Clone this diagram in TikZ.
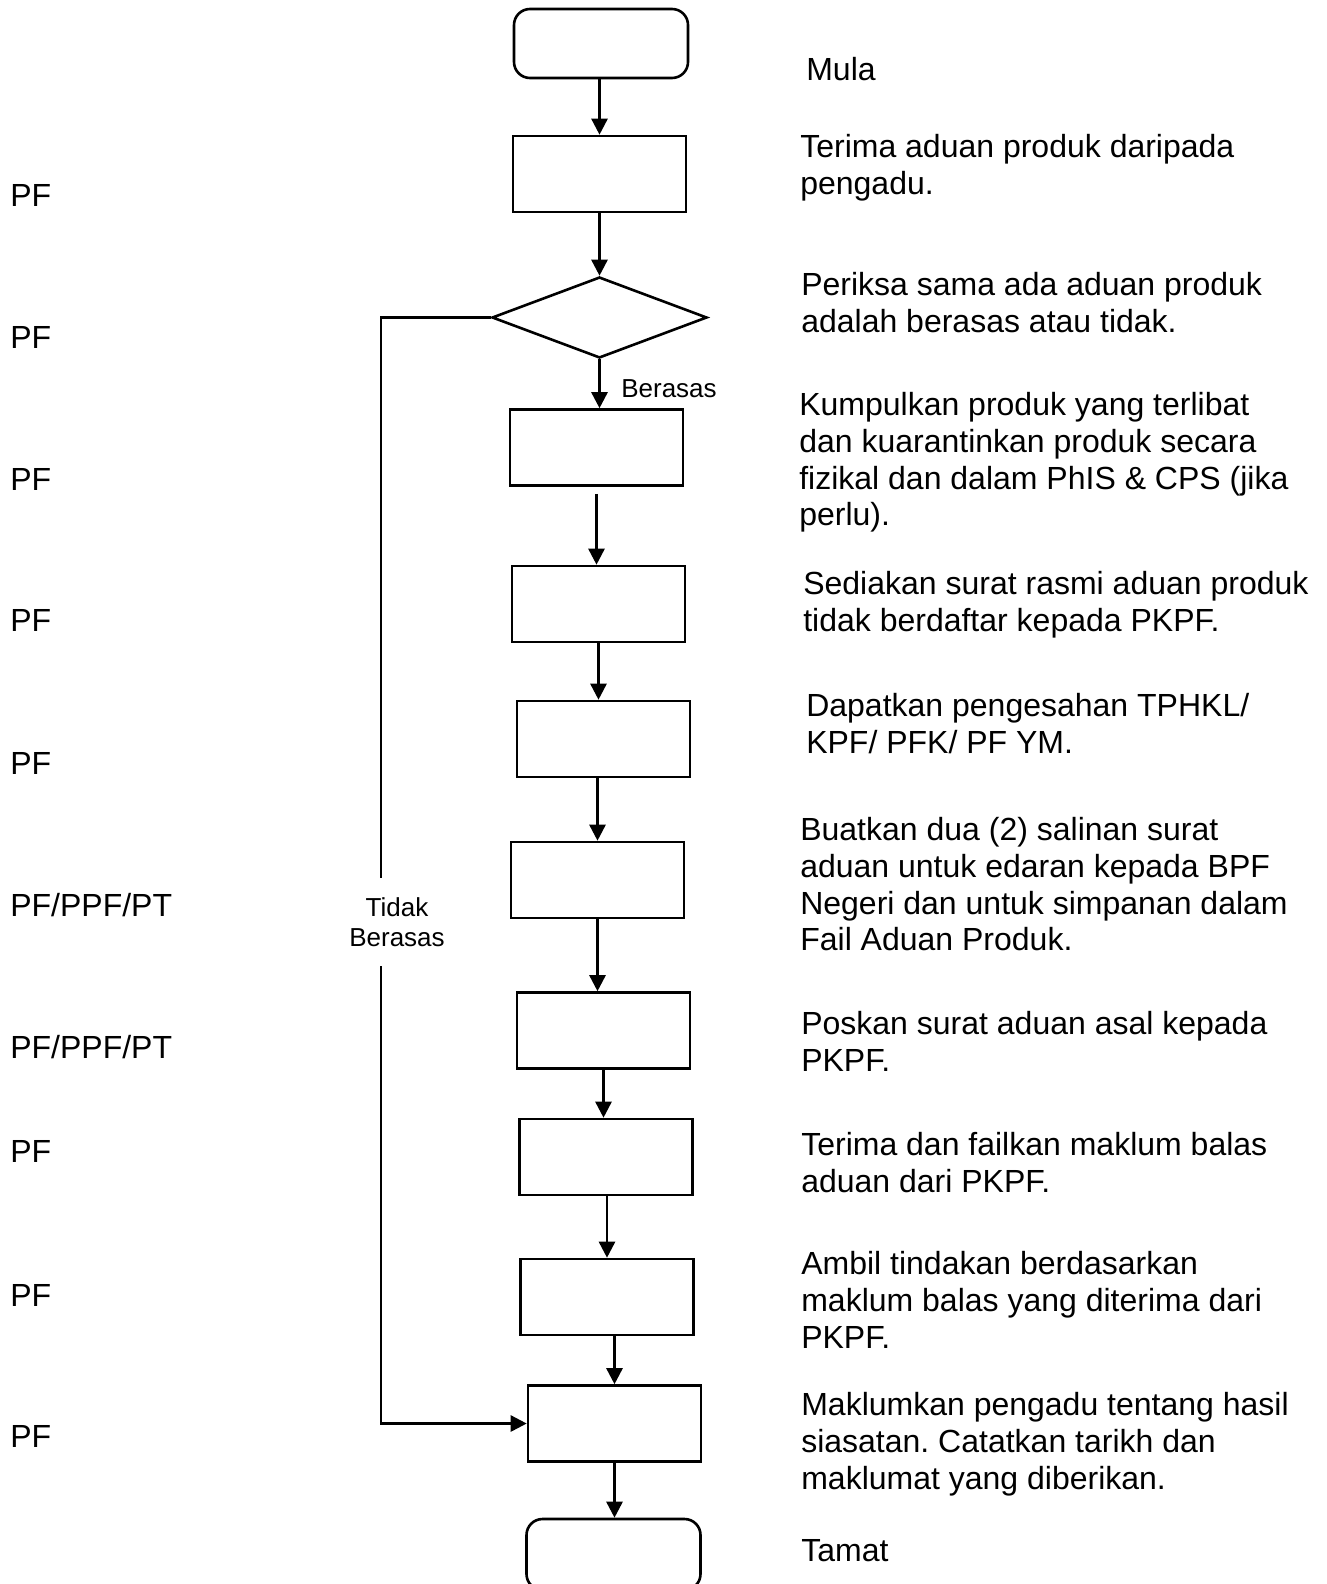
\documentclass[tikz,border=0pt]{standalone}
\usepackage{fontspec}
\setmainfont{Liberation Sans}
\usetikzlibrary{arrows.meta,shapes.geometric}
\frenchspacing
\begin{document}
\begin{tikzpicture}[x=0.5pt,y=-0.5pt,
  line width=1.3pt,
  every node/.style={inner sep=0pt},
  proc/.style={draw, rectangle, minimum width=86.5pt, minimum height=38pt},
  term/.style={draw, rectangle, rounded corners=8pt, minimum width=87pt, minimum height=34.5pt},
  decide/.style={draw, diamond, minimum width=107.5pt, minimum height=40.5pt},
  flow/.style={-{Triangle[length=8pt,width=8pt]}},
  desc/.style={anchor=north west, align=left, font=\fontsize{16pt}{18.4pt}\selectfont},
  role/.style={anchor=base west, font=\fontsize{16pt}{18.4pt}\selectfont},
  branch/.style={font=\fontsize{13pt}{15pt}\selectfont, align=center}]
\useasboundingbox (0,0) rectangle (1327,1584);
\clip (0,0) rectangle (1327,1584);

% flow chart shapes
\node[term]   (s)  at (601,43.5) {};
\node[proc]   (b1) at (599.5,174) {};
\node[decide] (d)  at (599.5,317.5) {};
\node[proc]   (b2) at (596.5,447.5) {};
\node[proc]   (b3) at (598.5,604) {};
\node[proc]   (b4) at (603.5,739) {};
\node[proc]   (b5) at (597.5,880) {};
\node[proc]   (b6) at (603.5,1030.5) {};
\node[proc]   (b7) at (606,1157) {};
\node[proc]   (b8) at (607,1297) {};
\node[proc]   (b9) at (614.5,1423.5) {};
\node[term, minimum height=35.5pt] (e) at (613.5,1554.5) {};

% main flow
\draw[flow] (s.south -| b1.north) -- (b1.north);
\draw[flow] (b1.south -| d.north) -- (d.north);
\draw[flow] (d.south) -- (d.south |- b2.north);
\node[branch, anchor=base west] (yes) at (620,397) {Berasas};
\draw[flow, shorten <=3.5pt] (b2.south) -- (b2.south |- b3.north);
\draw[flow] (b3.south) -- (b3.south |- b4.north);
\draw[flow] (b5.north |- b4.south) -- (b5.north);
\draw[flow] (b5.south) -- (b5.south |- b6.north);
\draw[flow] (b6.south) -- (b6.south |- b7.north);
\draw[flow] (b8.north |- b7.south) -- (b8.north);
\draw[flow] (b9.north |- b8.south) -- (b9.north);
\draw[flow] (b9.south) -- (b9.south |- e.north);

% rejected branch
\coordinate (rail) at (381,0);
\node[branch, minimum height=43pt] (no) at (397,922) {Tidak\\Berasas};
\draw (d.west) -- (d.west -| rail) -- (rail |- no.north);
\draw[flow] (rail |- no.south) -- (rail |- b9.west) -- (b9.west);

% step descriptions
\node[desc] (t0)  at (805,56)   {Mula};
\node[desc] (t1)  at (799,133)  {Terima aduan produk daripada\\pengadu.};
\node[desc] (t2)  at (800,271)  {Periksa sama ada aduan produk\\adalah berasas atau tidak.};
\node[desc] (t3)  at (798,391)  {Kumpulkan produk yang terlibat\\dan kuarantinkan produk secara\\fizikal dan dalam PhIS \& CPS (jika\\perlu).};
\node[desc] (t4)  at (802,570)  {Sediakan surat rasmi aduan produk\\tidak berdaftar kepada PKPF.};
\node[desc] (t5)  at (805,692)  {Dapatkan pengesahan TPHKL/\\KPF/ PFK/ PF YM.};
\node[desc] (t6)  at (799,816)  {Buatkan dua (2) salinan surat\\aduan untuk edaran kepada BPF\\Negeri dan untuk simpanan dalam\\Fail Aduan Produk.};
\node[desc] (t7)  at (800,1010) {Poskan surat aduan asal kepada\\PKPF.};
\node[desc] (t8)  at (800,1131) {Terima dan failkan maklum balas\\aduan dari PKPF.};
\node[desc] (t9)  at (800,1250) {Ambil tindakan berdasarkan\\maklum balas yang diterima dari\\PKPF.};
\node[desc] (t10) at (800,1391) {Maklumkan pengadu tentang hasil\\siasatan. Catatkan tarikh dan\\maklumat yang diberikan.};
\node[desc] (t11) at (800,1538) {Tamat};

% responsible officers
\node[role] (r1)  at (9,206)  {PF};
\node[role] (r2)  at (9,348)  {PF};
\node[role] (r3)  at (9,490)  {PF};
\node[role] (r4)  at (9,631)  {PF};
\node[role] (r5)  at (9,774)  {PF};
\node[role] (r6)  at (9,916)  {PF/PPF/PT};
\node[role] (r7)  at (9,1058) {PF/PPF/PT};
\node[role] (r8)  at (9,1162) {PF};
\node[role] (r9)  at (9,1306) {PF};
\node[role] (r10) at (9,1447) {PF};
\end{tikzpicture}
\end{document}
